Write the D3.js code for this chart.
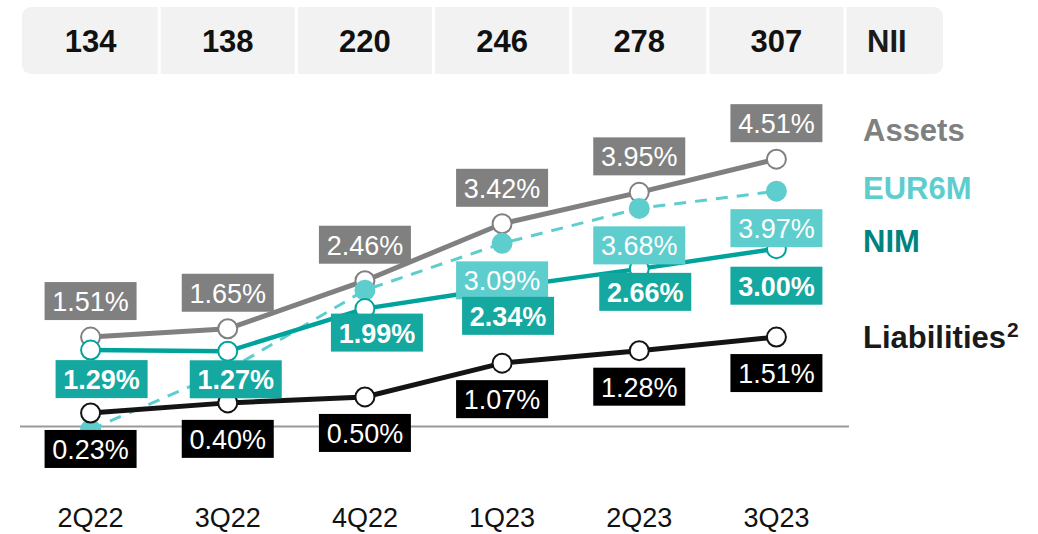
<!DOCTYPE html>
<html><head><meta charset="utf-8">
<script src="https://cdn.jsdelivr.net/npm/d3@7"></script>
<style>body{margin:0;background:#fff}svg{display:block;font-family:"Liberation Sans",Arial,sans-serif}</style>
</head><body>
<svg id="c" width="1038" height="534"></svg>
<script>
const quarters = ["2Q22","3Q22","4Q22","1Q23","2Q23","3Q23"];
const nii = [134,138,220,246,278,307];
const assets = [1.51,1.65,2.46,3.42,3.95,4.51];
const eur6m = [-0.05,0.95,2.30,3.09,3.68,3.97];
const nim = [1.29,1.27,1.99,2.34,2.66,3.00];
const liabilities = [0.23,0.40,0.50,1.07,1.28,1.51];
const eurLabelShown = [false,false,false,true,true,true];

// layout (pixel offsets for the label boxes)
const nimLabelDx = [11,8,12,6,6,0];
const nimLabelDy = [29,28,24,28,23,37];

const C = {gray:"#808080", eur:"#5ECDCD", nimLine:"#00A39B", nimBox:"#14A8A0", nimText:"#00837F", black:"#141414"};

const svg = d3.select("#c");
const x = d3.scaleBand().domain(quarters).range([22,845]).padding(0);
const cx = q => x(q) + x.bandwidth()/2;
const y = d3.scaleLinear().domain([0,5]).range([426.6,130.1]);

// NII header row
const header = svg.append("g");
header.append("rect").attr("x",22).attr("y",7).attr("width",921).attr("height",67).attr("rx",9).attr("fill","#f2f2f2");
header.selectAll("line.sep").data(quarters).join("line")
  .attr("x1",d=>x(d)+x.bandwidth()).attr("x2",d=>x(d)+x.bandwidth())
  .attr("y1",7).attr("y2",74).attr("stroke","#fff").attr("stroke-width",3);
header.selectAll("text.nii").data(nii).join("text")
  .attr("x",(d,i)=>cx(quarters[i])).attr("y",52).attr("text-anchor","middle")
  .attr("font-size",31).attr("font-weight","bold").attr("fill","#111").text(d=>d);
header.append("text").attr("x",867).attr("y",52).attr("font-size",31).attr("font-weight","bold").attr("fill","#1a1a1a").text("NII");

// baseline
svg.append("line").attr("x1",20).attr("x2",849).attr("y1",y(0)).attr("y2",y(0)).attr("stroke","#9a9a9a").attr("stroke-width",2);

const line = d3.line().x((d,i)=>cx(quarters[i])).y(d=>y(d));
svg.append("path").datum(assets).attr("d",line).attr("fill","none").attr("stroke",C.gray).attr("stroke-width",5);
svg.append("path").datum(eur6m).attr("d",line).attr("fill","none").attr("stroke",C.eur).attr("stroke-width",3).attr("stroke-dasharray","12,9");
svg.append("path").datum(nim).attr("d",line).attr("fill","none").attr("stroke",C.nimLine).attr("stroke-width",4.5);
svg.append("path").datum(liabilities).attr("d",line).attr("fill","none").attr("stroke",C.black).attr("stroke-width",5);

function markers(data, fill, stroke, r){
  svg.append("g").selectAll("circle").data(data).join("circle")
    .attr("cx",(d,i)=>cx(quarters[i])).attr("cy",d=>y(d)).attr("r",r)
    .attr("fill",fill).attr("stroke",stroke).attr("stroke-width",2);
}
markers(assets,"#fff",C.gray,9.5);
markers(eur6m,C.eur,C.eur,9.5);
markers(nim,"#fff",C.nimLine,9.5);
markers(liabilities,"#fff",C.black,9.5);

const fmt = d => d.toFixed(2)+"%";
function labels(data, fill, bold, dxArr, dyArr, show){
  const g = svg.append("g");
  data.forEach((d,i)=>{
    if(show && !show[i]) return;
    const px = cx(quarters[i]) + (dxArr? dxArr[i]:0);
    const py = y(d) + dyArr[i];
    g.append("rect").attr("x",px-46).attr("y",py-19).attr("width",92).attr("height",38).attr("fill",fill);
    g.append("text").attr("x",px).attr("y",py+10).attr("text-anchor","middle")
      .attr("font-size",27).attr("font-weight",bold?"bold":"normal").attr("fill","#fff").text(fmt(d));
  });
}
labels(assets,C.gray,false,null,assets.map(()=>-36));
labels(eur6m,C.eur,false,null,eur6m.map(()=>37),eurLabelShown);
labels(nim,C.nimBox,true,nimLabelDx,nimLabelDy);
labels(liabilities,"#000",false,null,liabilities.map(()=>36));

// legend
const leg = svg.append("g").attr("font-weight","bold").attr("font-size",31);
leg.append("text").attr("x",863).attr("y",141).attr("fill",C.gray).text("Assets");
leg.append("text").attr("x",863).attr("y",199).attr("fill",C.eur).text("EUR6M");
leg.append("text").attr("x",863).attr("y",252).attr("fill",C.nimText).text("NIM");
const lt = leg.append("text").attr("x",863).attr("y",348).attr("fill","#1a1a1a");
lt.append("tspan").text("Liabilities");
lt.append("tspan").attr("font-size",21).attr("dx",1).attr("dy",-11).text("2");

// x axis labels
svg.append("g").selectAll("text").data(quarters).join("text")
  .attr("x",d=>cx(d)).attr("y",527).attr("text-anchor","middle")
  .attr("font-size",27).attr("fill","#111").text(d=>d);
</script>
</body></html>
